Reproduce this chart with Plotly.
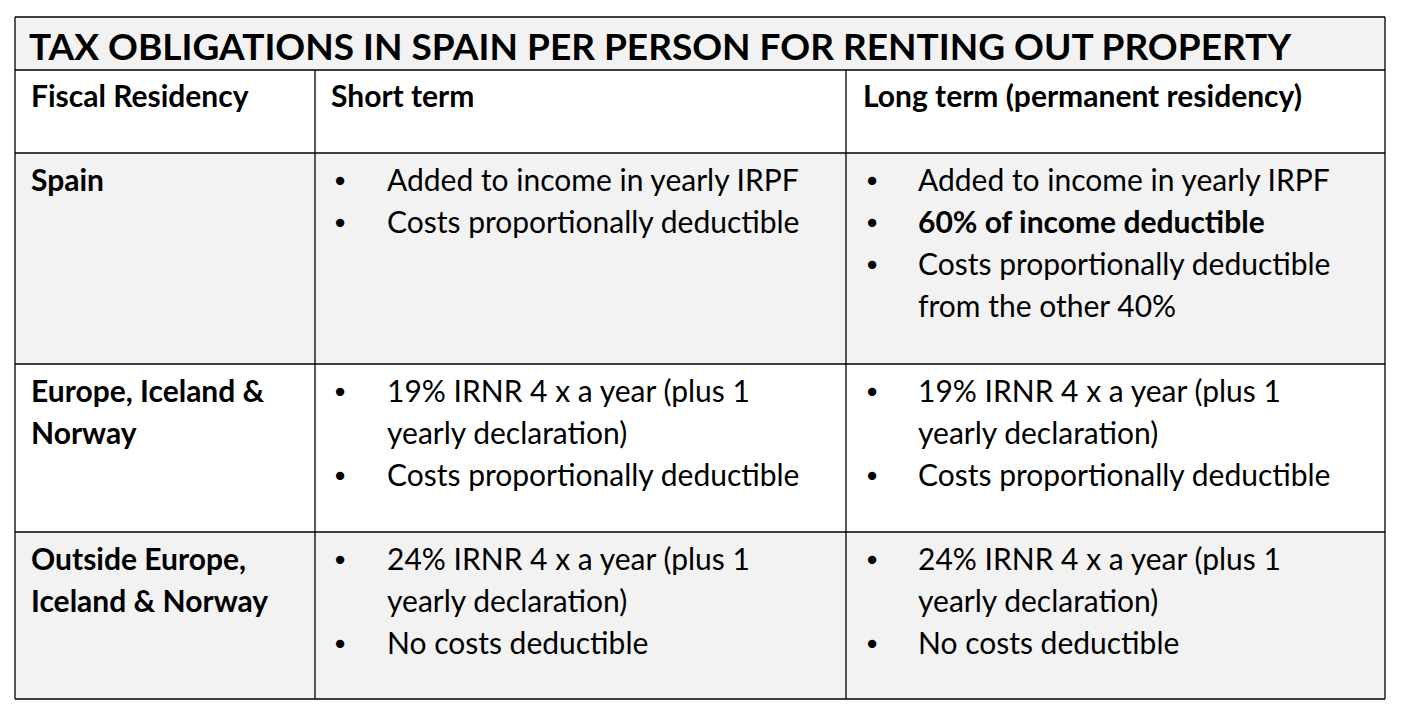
import plotly.graph_objects as go

title = "TAX OBLIGATIONS IN SPAIN PER PERSON FOR RENTING OUT PROPERTY"
headers = ["Fiscal Residency", "Short term", "Long term (permanent residency)"]
row_labels = [["Spain"], ["Europe, Iceland &", "Norway"], ["Outside Europe,", "Iceland & Norway"]]
short_term = [
    [["Added to income in yearly IRPF"], ["Costs proportionally deductible"]],
    [["19% IRNR 4 x a year (plus 1", "yearly declaration)"], ["Costs proportionally deductible"]],
    [["24% IRNR 4 x a year (plus 1", "yearly declaration)"], ["No costs deductible"]],
]
long_term = [
    [["Added to income in yearly IRPF"], ["<b>60% of income deductible</b>"],
     ["Costs proportionally deductible", "from the other 40%"]],
    [["19% IRNR 4 x a year (plus 1", "yearly declaration)"], ["Costs proportionally deductible"]],
    [["24% IRNR 4 x a year (plus 1", "yearly declaration)"], ["No costs deductible"]],
]

W, H = 1402, 714
OFF = 8
X0, X1, X2, X3 = 15, 315, 846, 1385
Y = [17, 70, 153, 364, 532, 699]
row_fill = ["#f2f2f2", "#ffffff", "#f2f2f2"]
FONT = "Lato"
FS = 30
LH = 42

fig = go.Figure()
shapes, ann = [], []

def rect(x0, y0, x1, y1, fill):
    shapes.append(dict(type="rect", xref="x", yref="y", x0=x0, x1=x1, y0=y0, y1=y1,
                       fillcolor=fill, line=dict(width=0), layer="below"))

def line(x0, y0, x1, y1, w=1.3):
    shapes.append(dict(type="line", xref="x", yref="y", x0=x0, x1=x1, y0=y0, y1=y1,
                       line=dict(color="#000000", width=w)))

def text(x, y, s, size=FS, bold=False):
    if bold:
        s = "<b>" + s + "</b>"
    ann.append(dict(x=x, y=y, xref="x", yref="y", text=s, showarrow=False,
                    xanchor="left", yanchor="middle",
                    font=dict(family=FONT, size=size, color="#000000")))

rect(X0, Y[0], X3, Y[1], "#f2f2f2")
for i, f in enumerate(row_fill):
    rect(X0, Y[i + 2], X3, Y[i + 3], f)

for y in Y:
    line(X0, y, X3, y)
line(X0, Y[0], X0, Y[-1]); line(X3, Y[0], X3, Y[-1])
line(X1, Y[1], X1, Y[-1]); line(X2, Y[1], X2, Y[-1])

text(27, 45, title, size=37, bold=True)
for x, h in zip([29, 329, 861], headers):
    text(x, 95, h, bold=True)

def bullets(xb, xt, y0, items):
    k = 0
    for item in items:
        text(xb, y0 + k * LH, "●", size=17)
        for ln in item:
            text(xt, y0 + k * LH, ln)
            k += 1

for r in range(3):
    y0 = Y[r + 2] + 26
    for j, ln in enumerate(row_labels[r]):
        text(29, y0 + j * LH, ln, bold=True)
    bullets(333, 385, y0, short_term[r])
    bullets(865, 916, y0, long_term[r])

fig.update_layout(width=W, height=H, margin=dict(l=0, r=0, t=0, b=0),
                  paper_bgcolor="white", plot_bgcolor="white",
                  shapes=shapes, annotations=ann, showlegend=False,
                  xaxis=dict(range=[OFF, W + OFF], visible=False, fixedrange=True),
                  yaxis=dict(range=[H + OFF, OFF], visible=False, fixedrange=True))
fig.write_html("out.html")
